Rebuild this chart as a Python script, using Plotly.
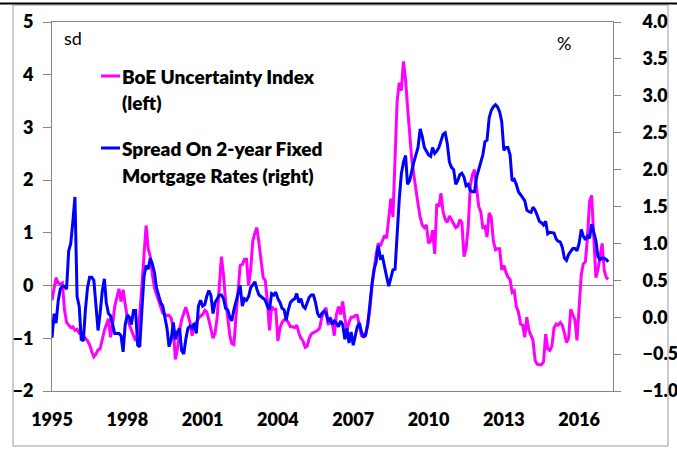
import pandas as pd
import plotly.graph_objects as go

# monthly observations, Jan 1995 - Mar 2017
start_month = "1995-01-01"

# BoE uncertainty index, sd (left axis), one row per year
uncertainty = [
    -0.28, -0.05, 0.15, 0.05, 0.03, 0.05, -0.45, -0.7, -0.75, -0.8, -0.78, -0.85,
    -0.83, -0.9, -0.88, -0.95, -1.0, -1.05, -1.12, -1.25, -1.35, -1.3, -1.22, -1.2,
    -1.0, -0.85, -0.75, -0.63, -0.98, -0.75, -0.4, -0.2, -0.06, -0.3, -0.08, -0.35,
    -0.6, -0.75, -0.85, -0.93, -1.05, -0.9, -0.55, 0.0, 0.6, 1.14, 0.7, 0.55,
    0.2, -0.05, -0.16, -0.3, -0.4, -0.52, -0.55, -0.57, -0.57, -0.62, -0.8, -1.4,
    -1.2, -0.85, -0.65, -0.5, -0.41, -0.55, -0.7, -0.95, -0.75, -0.7, -0.62, -0.58,
    -0.55, -0.47, -0.5, -0.65, -0.85, -1.0, -0.9, -0.6, 0.0, 0.55, 0.2, -0.3,
    -0.6, -0.95, -1.1, -1.12, -0.6, -0.1, 0.38, 0.4, 0.5, 0.5, 0.0, 0.3,
    0.85, 1.0, 1.1, 0.8, 0.45, 0.15, 0.1, -0.3, -0.85, -0.4, -0.45, -0.45,
    -1.05, -0.8, -0.7, -0.65, -0.65, -0.7, -0.78, -0.78, -0.8, -0.75, -0.9, -1.0,
    -1.05, -1.17, -1.15, -1.0, -0.92, -0.9, -0.88, -0.85, -0.8, -0.6, -0.5, -0.42,
    -0.75, -0.6, -0.7, -0.95, -0.55, -0.4, -0.55, -0.3, -0.62, -0.85, -0.7, -0.6,
    -0.6, -0.57, -0.57, -0.8, -0.95, -0.97, -0.95, -0.7, -0.45, 0.0, 0.35, 0.6,
    0.8, 0.75, 0.85, 0.95, 0.9, 1.3, 1.65, 1.3, 2.4, 3.5, 3.85, 3.7,
    4.25, 3.9, 3.4, 2.9, 2.4, 2.1, 1.8, 1.55, 1.3, 1.15, 1.1, 1.15,
    0.8, 0.85, 1.05, 0.6, 1.55, 1.5, 1.75, 1.4, 1.25, 1.2, 1.32, 1.25,
    1.15, 1.1, 1.12, 1.25, 1.2, 0.55, 0.7, 1.1, 1.9, 2.1, 2.2, 1.9,
    1.5, 1.4, 1.1, 1.12, 0.92, 1.38, 1.3, 0.85, 0.68, 0.7, 0.7, 0.3,
    0.38, 0.25, 0.16, 0.12, -0.13, -0.1, -0.4, -0.5, -0.73, -0.75, -0.98, -0.6,
    -0.85, -0.95, -1.04, -1.42, -1.49, -1.5, -1.5, -1.45, -0.92, -1.2, -1.23, -1.15,
    -0.8, -0.73, -0.75, -0.7, -0.75, -0.9, -1.08, -1.0, -0.45, -0.55, -0.65, -1.04,
    -0.3, 0.2, 0.41, 0.45, 0.9, 1.6, 1.71, 0.8, 0.15, 0.3, 0.6, 0.8,
    0.28, 0.15, 0.12,
]

# spread on 2-year fixed mortgage rates, % (right axis)
mortgage_spread = [
    -0.28, 0.05, -0.08, 0.22, 0.38, 0.42, 0.42, 0.38, 0.9, 1.0, 1.3, 1.63,
    0.28, 0.15, -0.3, -0.32, 0.1, 0.4, 0.54, 0.54, 0.5, 0.2, -0.18, 0.05,
    0.35, 0.52, 0.2, 0.05, 0.02, -0.1, -0.22, -0.22, -0.22, -0.25, -0.47, -0.1,
    0.03, 0.0, -0.1, 0.09, 0.09, -0.38, -0.4, 0.1, 0.55, 0.7, 0.65, 0.8,
    0.72, 0.6, 0.4, 0.3, 0.2, 0.15, 0.0, -0.15, -0.4, -0.3, -0.07, -0.3,
    -0.2, -0.15, -0.45, -0.5, -0.3, -0.15, -0.12, -0.15, -0.08, -0.22, 0.15, 0.23,
    0.15, 0.17, 0.28, 0.36, 0.3, 0.05, 0.2, 0.25, 0.3, 0.3, 0.25, 0.12,
    0.1, 0.0, -0.05, 0.1, 0.2, 0.32, 0.43, 0.15, 0.25, 0.23, 0.28, 0.4,
    0.45, 0.48, 0.38, 0.3, 0.28, 0.25, 0.23, 0.15, 0.1, 0.32, 0.3, 0.34,
    0.25, 0.2, 0.12, 0.1, -0.04, 0.1, 0.2, 0.23, 0.25, 0.32, 0.2, 0.25,
    0.15, 0.12, 0.2, 0.27, 0.3, 0.3, 0.2, 0.05, 0.0, 0.05, 0.08, 0.06,
    -0.05, -0.03, -0.1, -0.05, -0.08, -0.13, -0.05, -0.1, -0.3, -0.15, -0.35, -0.2,
    -0.38, -0.25, -0.13, -0.08, -0.2, -0.27, -0.23, -0.1, 0.2, 0.45, 0.65, 0.75,
    0.97, 0.8, 0.82, 0.7, 0.55, 0.42, 0.55, 0.64, 0.65, 1.2, 1.6, 1.94,
    2.1, 2.19, 1.8, 1.85, 2.0, 2.1, 2.2, 2.3, 2.55, 2.45, 2.3, 2.24,
    2.2, 2.18, 2.3, 2.22, 2.25, 2.3, 2.39, 2.48, 2.5, 2.35, 2.1, 2.03,
    2.0, 1.8, 1.85, 1.93, 1.95, 1.9, 1.78, 1.8, 1.72, 1.7, 1.7, 1.9,
    2.0, 2.12, 2.2, 2.38, 2.4, 2.7, 2.8, 2.85, 2.88, 2.85, 2.78, 2.65,
    2.26, 2.3, 2.3, 2.2, 1.85, 1.87, 1.8, 1.7, 1.65, 1.62, 1.58, 1.45,
    1.43, 1.42, 1.49, 1.45, 1.38, 1.3, 1.28, 1.25, 1.3, 1.13, 1.15, 1.14,
    1.14, 1.06, 1.03, 1.02, 0.95, 0.8, 0.77, 0.85, 0.9, 0.93, 0.93, 0.9,
    1.0, 1.19, 1.1, 1.05, 1.1, 1.07, 1.26, 1.15, 1.04, 0.82, 0.78, 0.8,
    0.8, 0.78, 0.75,
]

year_ticks = ["1995", "1998", "2001", "2004", "2007", "2010", "2013", "2016"]

dates = pd.date_range(start_month, periods=len(uncertainty), freq="MS")

GREY = "#868686"
FONT = "Lato"

# plot area in pixels: x 52..613, y 22..391
PLOT_L, PLOT_R, PLOT_T, PLOT_B = 52, 613, 22, 391


def px_x(px):
    return (px - PLOT_L) / (PLOT_R - PLOT_L)


def px_y(py):
    return (PLOT_B - py) / (PLOT_B - PLOT_T)


fig = go.Figure()
fig.add_trace(
    go.Scatter(
        x=dates,
        y=uncertainty,
        mode="lines",
        name="BoE Uncertainty Index (left)",
        line=dict(color="#FF00FF", width=3),
    )
)
fig.add_trace(
    go.Scatter(
        x=dates,
        y=mortgage_spread,
        mode="lines",
        name="Spread On 2-year Fixed Mortgage Rates (right)",
        line=dict(color="#0000FF", width=3),
        yaxis="y2",
    )
)

tick_font = dict(family=FONT, size=18, color="black", weight=800)
fig.update_layout(
    width=677,
    height=454,
    margin=dict(l=PLOT_L, r=677 - PLOT_R, t=PLOT_T, b=454 - PLOT_B),
    paper_bgcolor="white",
    plot_bgcolor="white",
    showlegend=False,
    xaxis=dict(
        type="date",
        range=["1995-01-01", "2017-05-08"],
        tickvals=[f"{y}-01-01" for y in year_ticks],
        ticktext=year_ticks,
        ticks="",
        ticklabelstandoff=12,
        tickfont=tick_font,
        showgrid=False,
        zeroline=False,
        showline=True,
        linecolor=GREY,
        linewidth=1,
        mirror=True,
        automargin=False,
    ),
    yaxis=dict(
        range=[-2, 5],
        dtick=1,
        ticks="outside",
        ticklen=8,
        tickcolor=GREY,
        ticklabelstandoff=6,
        tickfont=tick_font,
        showgrid=False,
        zeroline=True,
        zerolinecolor=GREY,
        zerolinewidth=1,
        showline=True,
        linecolor=GREY,
        linewidth=1,
        automargin=False,
    ),
    yaxis2=dict(
        range=[-1, 4],
        dtick=0.5,
        tickformat=".1f",
        overlaying="y",
        side="right",
        ticks="outside",
        ticklen=7,
        tickcolor=GREY,
        ticklabelstandoff=18,
        ticklabeloverflow="allow",
        tickfont=tick_font,
        showgrid=False,
        zeroline=False,
        showline=True,
        linecolor=GREY,
        linewidth=1,
        automargin=False,
    ),
)

# outer chart frame and the black rule across the top
fig.add_shape(
    type="rect", xref="paper", yref="paper",
    x0=px_x(13), x1=px_x(668), y0=px_y(446), y1=px_y(5),
    line=dict(color="#9a9a9a", width=1),
)
fig.add_shape(
    type="line", xref="paper", yref="paper",
    x0=px_x(0), x1=px_x(677), y0=px_y(3.5), y1=px_y(3.5),
    line=dict(color="black", width=2),
)

# axis unit labels
fig.add_annotation(
    text="sd", xref="paper", yref="paper", x=px_x(62), y=px_y(38),
    xanchor="left", yanchor="middle", showarrow=False,
    font=dict(family=FONT, size=18, color="black"),
)
fig.add_annotation(
    text="%", xref="paper", yref="paper", x=px_x(555), y=px_y(43),
    xanchor="left", yanchor="middle", showarrow=False,
    font=dict(family=FONT, size=18, color="black"),
)

# hand-made legend
legend_font = dict(family=FONT, size=19, color="black", weight=800)
legend_items = [
    ("#FF00FF", ["BoE Uncertainty Index", "(left)"], 76),
    ("#0000FF", ["Spread On 2-year Fixed", "Mortgage Rates (right)"], 148),
]
for color, lines, y_px in legend_items:
    fig.add_shape(
        type="line", xref="paper", yref="paper",
        x0=px_x(101), x1=px_x(120), y0=px_y(y_px), y1=px_y(y_px),
        line=dict(color=color, width=3),
    )
    for i, line_text in enumerate(lines):
        fig.add_annotation(
            text=line_text, xref="paper", yref="paper",
            x=px_x(120), y=px_y(y_px + 27 * i),
            xanchor="left", yanchor="middle", showarrow=False,
            font=legend_font,
        )

# drop the browser's default page margin so the figure sits at the window corner
fig.write_html(
    "out.html",
    config={"displayModeBar": False},
    post_script="document.body.style.margin = '0';",
)
